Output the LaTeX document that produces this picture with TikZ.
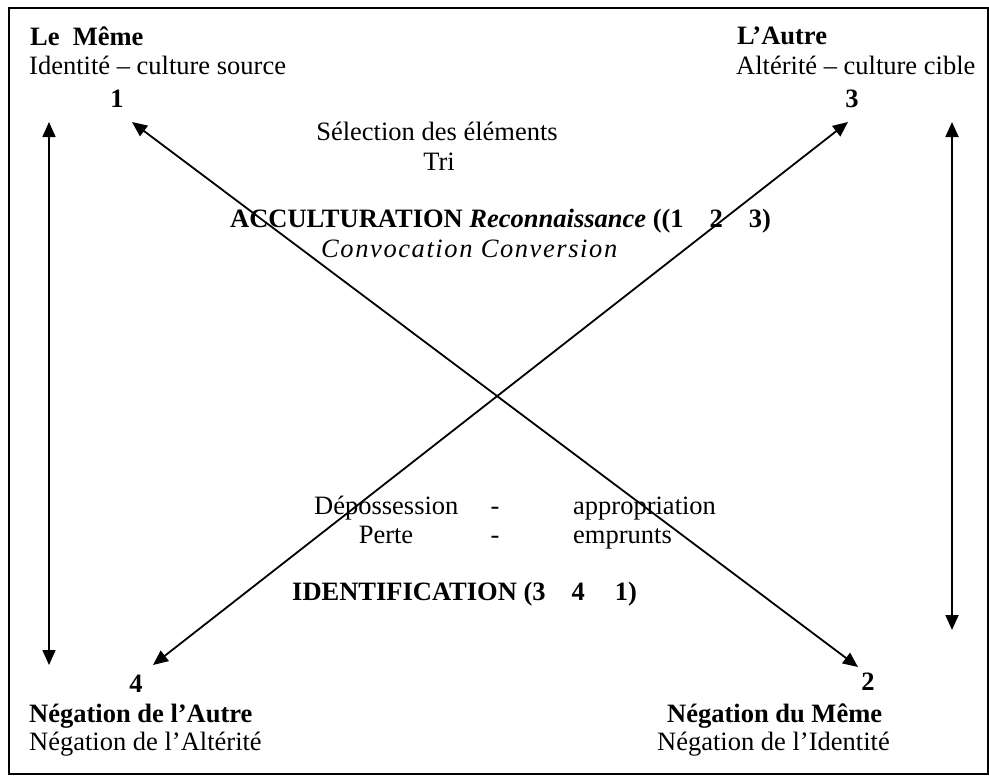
\documentclass[tikz,border=0pt]{standalone}
\usepackage{fontspec}
\setmainfont{Liberation Serif}
\usetikzlibrary{arrows.meta}
\begin{document}
\begin{tikzpicture}[x=1pt,y=-1pt,
  fs/.style={font=\fontsize{26.5}{30}\selectfont},
  txt/.style={fs,inner sep=0pt,anchor=base west},
  txtc/.style={fs,inner sep=0pt,anchor=base},
  txtb/.style={txt,font=\fontsize{26.5}{30}\selectfont\bfseries},
  txtbc/.style={txtc,font=\fontsize{26.5}{30}\selectfont\bfseries},
  frame/.style={draw=black,line width=2pt},
  arr/.style={{Triangle[length=15pt,width=13pt]}-{Triangle[length=15pt,width=13pt]},line width=1.8pt}]
\useasboundingbox (0,0) rectangle (989,776);
\draw[frame] (9,8) rectangle (988,774);
% corner texts
\node[txtb] (leme) at (30,46) {Le\ \ Même};
\node[txt] (ident) at (29,75) {Identité – culture source};
\node[txtbc] (n1) at (117,107) {1};
\node[txtb] (autre) at (737,45) {L’Autre};
\node[txt] (alter) at (736,75) {Altérité – culture cible};
\node[txtbc] (n3) at (852,107) {3};
% upper middle
\node[txtc] (sel) at (437,140) {Sélection des éléments};
\node[txtc] (tri) at (439,170) {Tri};
\node[txt] (accu) at (230,227) {\textbf{ACCULTURATION} \textbf{\textit{Reconnaissance}} \textbf{((1\hspace{26pt}2\hspace{26pt}3)}};
\node[txt] (conv) at (321,257) {\itshape\addfontfeature{LetterSpace=6}Convocation Conversion};
% lower middle
\node[txt] (dep) at (314,514) {Dépossession};
\node[txtc] (tir1) at (495,514) {-};
\node[txt] (appr) at (573,514) {appropriation};
\node[txtc] (perte) at (386,543) {Perte};
\node[txtc] (tir2) at (495,543) {-};
\node[txt] (emp) at (573,543) {emprunts};
\node[txtb] (identif) at (292,600) {IDENTIFICATION (3\hspace{26pt}4\hspace{30pt}1)};
% bottom texts
\node[txtbc] (n4) at (136,692) {4};
\node[txtb] (neg4) at (29,722) {Négation de l’Autre};
\node[txt] (neg4b) at (29,750) {Négation de l’Altérité};
\node[txtbc] (n2) at (868,690) {2};
\node[txtb] (neg2) at (667,722) {Négation du Même};
\node[txt] (neg2b) at (657,750) {Négation de l’Identité};
% arrow end points
\coordinate (lt) at (49,122);
\coordinate (lb) at (49,665);
\coordinate (rt) at (952,122);
\coordinate (rb) at (952,630);
\coordinate (a1) at (132,122);
\coordinate (a2) at (858,667);
\coordinate (b3) at (848,122);
\coordinate (b4) at (153,665);
\draw[arr] (lt) -- (lb);
\draw[arr] (rt) -- (rb);
\draw[arr] (a1) -- (a2);
\draw[arr] (b3) -- (b4);
\end{tikzpicture}
\end{document}
